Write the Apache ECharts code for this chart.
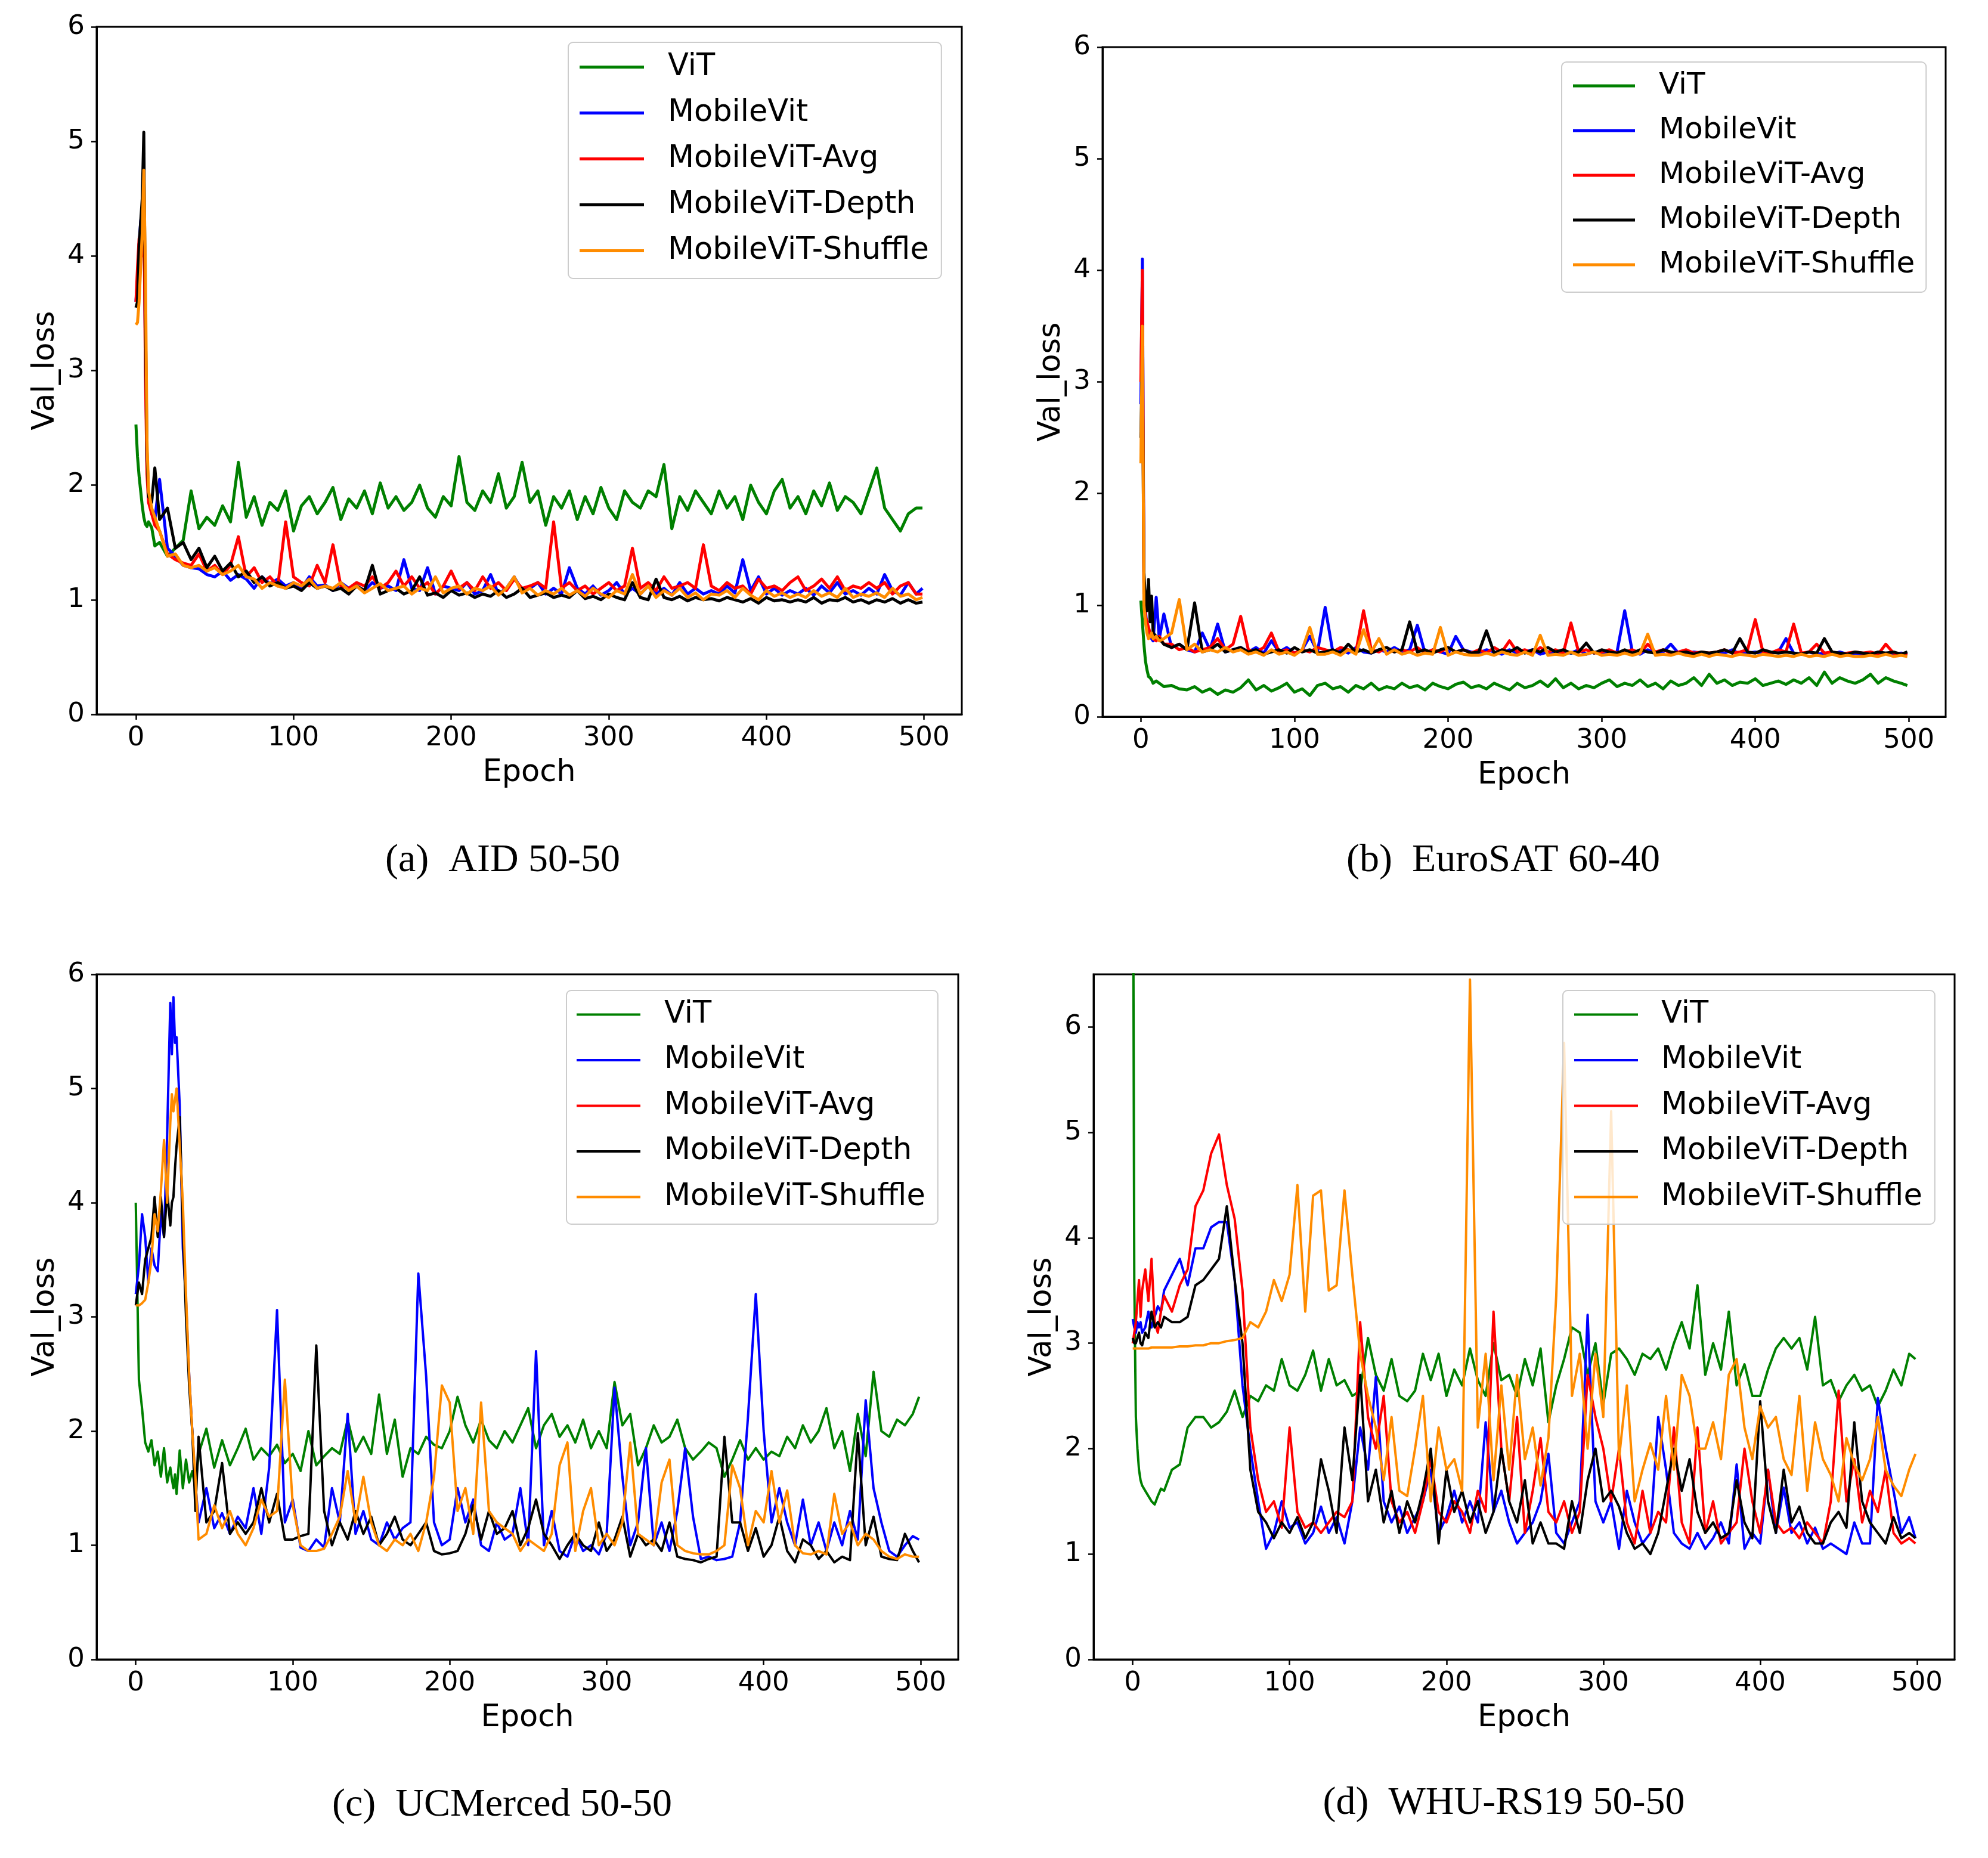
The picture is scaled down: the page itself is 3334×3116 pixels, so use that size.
<!DOCTYPE html>
<html>
<head>
<meta charset="utf-8">
<script src="https://cdn.jsdelivr.net/npm/echarts@6.0.0/dist/echarts.min.js"></script>
<style>
  html, body { margin: 0; padding: 0; background: #fff; }
  #chart { width: 3334px; height: 3116px; }
</style>
</head>
<body>
<div id="chart"></div>
<script>
// validation loss curves, four datasets

var seriesNames = ['ViT', 'MobileVit', 'MobileViT-Avg', 'MobileViT-Depth', 'MobileViT-Shuffle'];
var xTicks = [0, 100, 200, 300, 400, 500];
var yTicks = [0, 1, 2, 3, 4, 5, 6];

// epochs sampled for (a) and (b)
var epochsAB = [0,1,2,3,4,5,6,7,8,10,12,15,
  20,25,30,35,40,45,50,55,60,65,70,75,80,85,90,95,100,105,110,115,120,125,130,135,140,145,150,155,160,165,
  170,175,180,185,190,195,200,205,210,215,220,225,230,235,240,245,250,255,260,265,270,275,280,285,290,295,
  300,305,310,315,320,325,330,335,340,345,350,355,360,365,370,375,380,385,390,395,400,405,410,415,420,425,
  430,435,440,445,450,455,460,465,470,475,480,485,490,495,499];

// epochs sampled for (c)
var epochsC = [0,2,4,6,8,10,12,14,16,18,20,22,23,24,25,26,28,30,32,34,36,38,40,
  45,50,55,60,65,70,75,80,85,90,95,100,105,110,115,120,125,130,135,140,145,150,155,160,165,170,175,180,185,190,
  195,200,205,210,215,220,225,230,235,240,245,250,255,260,265,270,275,280,285,290,295,300,305,310,315,320,325,
  330,335,340,345,350,355,360,365,370,375,380,385,390,395,400,405,410,415,420,425,430,435,440,445,450,455,460,
  465,470,475,480,485,490,495,499];

// epochs sampled for (d)
var epochsD = [0,1,2,3,4,5,6,8,10,12,14,16,18,
  20,25,30,35,40,45,50,55,60,65,70,75,80,85,90,95,100,105,110,115,120,125,130,135,140,145,150,155,160,165,
  170,175,180,185,190,195,200,205,210,215,220,225,230,235,240,245,250,255,260,265,270,275,280,285,290,295,
  300,305,310,315,320,325,330,335,340,345,350,355,360,365,370,375,380,385,390,395,400,405,410,415,420,425,
  430,435,440,445,450,455,460,465,470,475,480,485,490,495,499];

// (a) AID 50-50
var aidVit = [2.53,2.25,2.08,1.95,1.82,1.72,1.66,1.64,1.68,1.63,1.47,1.5,
  1.38,1.45,1.52,1.95,1.62,1.72,1.65,1.82,1.68,2.2,
  1.72,1.9,1.65,1.85,1.78,1.95,1.6,1.82,1.9,1.75,
  1.85,1.98,1.7,1.88,1.8,1.95,1.75,2.02,1.8,1.9,
  1.78,1.85,2.0,1.8,1.72,1.9,1.82,2.25,1.85,1.78,
  1.95,1.85,2.1,1.8,1.9,2.2,1.85,1.95,1.65,1.9,
  1.8,1.95,1.7,1.9,1.75,1.98,1.8,1.7,1.95,1.85,
  1.8,1.95,1.9,2.18,1.62,1.9,1.78,1.95,1.85,1.75,
  1.95,1.8,1.9,1.7,2.0,1.85,1.75,1.95,2.05,1.8,
  1.9,1.75,1.95,1.82,2.02,1.78,1.9,1.85,1.75,1.95,
  2.15,1.8,1.7,1.6,1.75,1.8,1.8];
var aidMobileVit = [3.6,3.8,4.1,4.3,4.4,4.5,3.2,2.2,1.9,1.75,1.7,2.05,
  1.45,1.38,1.3,1.28,1.27,1.22,1.2,1.25,1.17,1.22,
  1.18,1.1,1.2,1.14,1.18,1.12,1.15,1.1,1.2,1.12,
  1.13,1.08,1.15,1.1,1.12,1.08,1.15,1.1,1.12,1.08,
  1.35,1.1,1.08,1.28,1.05,1.12,1.1,1.08,1.15,1.05,
  1.08,1.22,1.05,1.1,1.2,1.08,1.1,1.15,1.05,1.1,
  1.05,1.28,1.1,1.05,1.12,1.04,1.08,1.15,1.05,1.1,
  1.05,1.12,1.05,1.1,1.04,1.15,1.05,1.1,1.05,1.08,
  1.05,1.12,1.06,1.35,1.08,1.2,1.05,1.1,1.04,1.08,
  1.05,1.1,1.04,1.12,1.06,1.15,1.05,1.08,1.04,1.1,
  1.05,1.22,1.08,1.04,1.15,1.05,1.1];
var aidAvg = [3.6,3.9,4.15,4.2,4.0,4.5,3.0,2.1,1.85,1.75,1.65,1.6,
  1.4,1.35,1.32,1.3,1.4,1.25,1.3,1.22,1.3,1.55,
  1.2,1.28,1.15,1.2,1.12,1.68,1.2,1.15,1.12,1.3,
  1.15,1.48,1.12,1.1,1.15,1.12,1.2,1.1,1.15,1.25,
  1.12,1.2,1.1,1.15,1.05,1.12,1.25,1.1,1.15,1.08,
  1.2,1.1,1.15,1.08,1.18,1.1,1.12,1.15,1.1,1.68,
  1.1,1.15,1.08,1.12,1.05,1.1,1.15,1.08,1.12,1.45,
  1.1,1.15,1.08,1.2,1.1,1.12,1.15,1.1,1.48,1.12,
  1.08,1.15,1.1,1.12,1.05,1.18,1.1,1.12,1.08,1.15,
  1.2,1.08,1.12,1.18,1.1,1.2,1.08,1.12,1.1,1.15,
  1.1,1.15,1.05,1.12,1.15,1.05,1.05];
var aidDepth = [3.55,3.6,4.1,4.3,4.5,5.08,3.5,2.3,1.9,1.85,2.15,1.7,
  1.8,1.45,1.5,1.35,1.45,1.28,1.38,1.25,1.32,1.2,
  1.25,1.15,1.2,1.12,1.15,1.1,1.12,1.08,1.15,1.1,
  1.12,1.08,1.1,1.05,1.12,1.08,1.3,1.05,1.08,1.1,
  1.05,1.08,1.2,1.04,1.06,1.02,1.08,1.04,1.06,1.02,
  1.05,1.03,1.08,1.02,1.05,1.1,1.02,1.04,1.06,1.02,
  1.04,1.02,1.08,1.01,1.03,1.0,1.05,1.02,1.0,1.15,
  1.02,1.0,1.18,1.02,1.0,1.03,0.99,1.02,1.0,1.01,
  0.99,1.02,1.0,0.98,1.01,0.97,1.02,0.99,1.0,0.98,
  1.0,0.98,1.02,0.97,1.0,0.99,1.02,0.98,1.0,0.97,
  1.0,0.98,1.01,0.97,1.0,0.97,0.98];
var aidShuffle = [3.4,3.42,3.6,3.9,4.2,4.75,3.9,2.4,1.95,1.8,1.72,1.6,
  1.38,1.4,1.3,1.28,1.3,1.25,1.28,1.22,1.25,1.3,
  1.2,1.18,1.1,1.15,1.12,1.1,1.15,1.12,1.18,1.1,
  1.12,1.1,1.15,1.08,1.12,1.06,1.1,1.14,1.08,1.1,
  1.12,1.05,1.1,1.08,1.2,1.06,1.1,1.12,1.05,1.1,
  1.08,1.12,1.04,1.1,1.2,1.06,1.1,1.04,1.08,1.05,
  1.1,1.04,1.08,1.03,1.1,1.05,1.02,1.08,1.05,1.22,
  1.05,1.12,1.02,1.08,1.04,1.1,1.02,1.06,1.0,1.05,
  1.04,1.08,1.02,1.1,1.04,1.0,1.08,1.03,1.06,1.02,
  1.05,1.02,1.08,1.03,1.06,1.02,1.1,1.02,1.05,1.03,
  1.06,1.02,1.1,1.03,1.05,1.0,1.02];

// (b) EuroSAT 60-40
var euroVit = [1.04,0.85,0.65,0.5,0.42,0.36,0.35,0.33,0.3,0.32,0.3,0.27,
  0.28,0.25,0.24,0.27,0.22,0.25,0.2,0.24,0.22,0.26,
  0.33,0.24,0.28,0.23,0.26,0.3,0.22,0.25,0.19,0.28,
  0.3,0.25,0.27,0.22,0.28,0.25,0.3,0.24,0.27,0.25,
  0.3,0.26,0.28,0.24,0.3,0.27,0.25,0.29,0.31,0.26,
  0.28,0.25,0.3,0.27,0.24,0.3,0.26,0.28,0.32,0.27,
  0.34,0.26,0.3,0.25,0.28,0.26,0.3,0.33,0.27,0.3,
  0.28,0.33,0.27,0.3,0.25,0.32,0.28,0.3,0.35,0.28,
  0.38,0.3,0.33,0.28,0.31,0.3,0.34,0.28,0.3,0.32,
  0.29,0.33,0.3,0.35,0.28,0.4,0.3,0.35,0.32,0.3,
  0.33,0.38,0.3,0.35,0.32,0.3,0.28];
var euroMobileVit = [2.8,4.1,1.2,0.95,0.8,0.75,0.72,0.7,0.68,1.07,0.7,0.92,
  0.62,0.65,0.6,0.58,0.75,0.6,0.83,0.58,0.6,0.62,
  0.58,0.62,0.57,0.68,0.58,0.62,0.57,0.6,0.72,0.58,
  0.98,0.58,0.6,0.57,0.62,0.58,0.57,0.6,0.58,0.62,
  0.58,0.6,0.82,0.57,0.6,0.58,0.56,0.72,0.6,0.58,
  0.57,0.6,0.58,0.56,0.6,0.57,0.58,0.6,0.56,0.58,
  0.56,0.58,0.57,0.6,0.56,0.58,0.57,0.56,0.58,0.95,
  0.58,0.56,0.6,0.57,0.58,0.65,0.57,0.56,0.58,0.57,
  0.56,0.58,0.57,0.6,0.56,0.57,0.58,0.56,0.57,0.58,
  0.7,0.57,0.56,0.58,0.56,0.57,0.56,0.58,0.56,0.57,
  0.56,0.57,0.55,0.57,0.56,0.57,0.56];
var euroAvg = [3.0,4.0,1.1,0.9,0.85,0.8,0.75,0.72,0.7,0.68,0.72,0.65,
  0.65,0.6,0.62,0.58,0.6,0.62,0.7,0.6,0.65,0.9,
  0.6,0.58,0.62,0.75,0.58,0.6,0.57,0.6,0.58,0.62,
  0.6,0.58,0.62,0.6,0.58,0.95,0.6,0.58,0.62,0.58,
  0.6,0.58,0.62,0.57,0.6,0.58,0.62,0.58,0.6,0.57,
  0.6,0.57,0.62,0.58,0.68,0.58,0.6,0.57,0.62,0.58,
  0.6,0.57,0.84,0.58,0.6,0.57,0.58,0.6,0.57,0.58,
  0.6,0.57,0.65,0.58,0.6,0.57,0.58,0.6,0.57,0.58,
  0.57,0.58,0.6,0.57,0.58,0.6,0.87,0.58,0.57,0.6,
  0.58,0.83,0.57,0.58,0.65,0.57,0.58,0.56,0.57,0.58,
  0.57,0.58,0.56,0.65,0.57,0.56,0.57];
var euroDepth = [2.5,3.2,1.3,1.05,0.95,1.23,0.85,1.08,0.75,0.72,0.7,0.65,
  0.62,0.65,0.6,1.02,0.58,0.6,0.65,0.58,0.6,0.62,
  0.58,0.6,0.56,0.58,0.6,0.57,0.62,0.58,0.6,0.57,
  0.58,0.6,0.57,0.65,0.58,0.6,0.57,0.6,0.62,0.58,
  0.6,0.85,0.58,0.6,0.57,0.6,0.62,0.58,0.6,0.57,
  0.58,0.77,0.57,0.6,0.58,0.62,0.57,0.6,0.58,0.62,
  0.58,0.6,0.57,0.58,0.66,0.57,0.6,0.58,0.57,0.6,
  0.57,0.6,0.58,0.57,0.6,0.58,0.57,0.58,0.56,0.58,
  0.57,0.58,0.6,0.57,0.7,0.58,0.57,0.6,0.58,0.57,
  0.58,0.57,0.56,0.58,0.57,0.7,0.58,0.57,0.56,0.58,
  0.57,0.56,0.58,0.57,0.58,0.56,0.58];
var euroShuffle = [2.27,3.5,1.0,0.85,0.75,0.7,0.72,0.75,0.7,0.72,0.68,0.7,
  0.75,1.05,0.6,0.65,0.58,0.6,0.58,0.62,0.58,0.6,
  0.56,0.58,0.55,0.6,0.56,0.58,0.55,0.6,0.8,0.56,
  0.56,0.58,0.55,0.6,0.56,0.78,0.58,0.7,0.56,0.6,
  0.56,0.58,0.55,0.57,0.56,0.8,0.55,0.58,0.56,0.55,
  0.55,0.57,0.55,0.58,0.56,0.55,0.58,0.55,0.73,0.55,
  0.56,0.55,0.58,0.55,0.56,0.58,0.55,0.56,0.55,0.57,
  0.55,0.57,0.74,0.55,0.56,0.55,0.57,0.55,0.54,0.56,
  0.54,0.56,0.55,0.54,0.56,0.55,0.54,0.56,0.55,0.54,
  0.55,0.54,0.56,0.54,0.55,0.54,0.56,0.54,0.55,0.54,
  0.54,0.55,0.54,0.56,0.54,0.55,0.54];

// (c) UCMerced 50-50 (no visible MobileViT-Avg curve)
var ucmVit = [4.0,2.45,2.2,1.9,1.82,1.92,1.7,1.82,1.6,1.85,1.55,1.68,1.58,1.5,1.62,1.45,1.83,1.5,1.75,1.55,1.65,1.5,1.8,
  2.02,1.68,1.92,1.7,1.85,2.02,1.75,1.85,1.78,1.88,
  1.72,1.8,1.65,2.0,1.7,1.78,1.85,1.8,2.1,1.82,
  1.95,1.8,2.32,1.8,2.1,1.6,1.85,1.8,1.95,1.88,
  1.85,2.0,2.3,2.05,1.9,2.1,1.92,1.85,2.0,1.9,
  2.05,2.2,1.85,2.05,2.15,1.95,2.05,1.9,2.1,1.85,
  2.0,1.85,2.43,2.05,2.15,1.7,1.85,2.05,1.9,1.95,
  2.1,1.85,1.75,1.82,1.9,1.85,1.6,1.75,1.92,1.75,
  1.85,1.75,1.82,1.78,1.95,1.85,2.05,1.9,2.0,2.2,
  1.85,2.0,1.65,2.15,1.78,2.52,2.0,1.95,2.1,2.05,
  2.15,2.3];
var ucmMobileVit = [3.2,3.45,3.9,3.7,3.3,3.6,3.45,3.4,3.9,3.7,4.6,5.75,5.3,5.8,5.4,5.45,4.85,3.6,3.15,2.5,2.0,1.55,1.2,
  1.5,1.15,1.28,1.1,1.25,1.15,1.5,1.1,1.68,3.06,
  1.2,1.4,0.98,0.95,1.05,0.98,1.5,1.2,2.15,1.1,
  1.3,1.05,1.0,1.2,1.05,1.15,1.2,3.38,2.48,1.2,
  1.0,1.05,1.5,1.2,1.4,1.0,0.95,1.2,1.05,1.1,
  1.5,1.0,2.7,1.0,1.3,0.95,0.9,1.1,0.95,1.0,
  0.92,1.1,2.38,1.6,1.0,1.2,1.85,1.0,1.2,0.95,
  1.3,1.85,1.25,0.88,0.9,0.87,0.88,0.9,1.2,2.12,
  3.2,2.0,1.2,1.5,1.2,1.0,1.4,1.0,1.2,0.95,
  1.2,1.0,1.3,1.05,2.27,1.5,1.2,0.95,0.9,1.0,
  1.08,1.05];
var ucmAvg = [];
var ucmDepth = [3.1,3.3,3.2,3.5,3.6,3.7,4.05,3.7,4.05,3.7,4.1,3.8,4.0,4.05,4.3,4.5,4.75,3.8,3.0,2.4,2.0,1.3,1.95,
  1.2,1.3,1.72,1.1,1.2,1.1,1.2,1.5,1.2,1.45,
  1.05,1.05,1.08,1.1,2.75,1.3,1.0,1.2,1.05,1.3,
  1.1,1.25,1.0,1.1,1.25,1.05,1.0,1.1,1.2,0.95,
  0.92,0.93,0.95,1.1,1.35,1.05,1.3,1.1,1.15,1.3,
  1.0,1.15,1.4,1.1,1.0,0.88,1.0,1.1,1.0,0.95,
  1.2,0.95,1.05,1.25,0.9,1.1,1.0,1.05,0.95,1.2,
  0.9,0.88,0.87,0.85,0.88,0.9,1.95,1.2,1.2,0.95,
  1.15,0.9,1.0,1.25,0.95,0.85,1.05,1.0,0.88,0.95,
  0.85,0.9,0.87,1.98,1.0,1.25,0.9,0.88,0.87,1.1,
  0.95,0.85];
var ucmShuffle = [3.1,3.1,3.12,3.15,3.3,3.5,3.9,3.75,4.1,4.55,4.0,4.7,4.95,4.8,4.9,5.0,4.5,4.0,3.2,2.5,2.0,1.6,1.05,
  1.1,1.35,1.15,1.3,1.1,1.0,1.15,1.4,1.25,1.3,
  2.45,1.35,1.0,0.95,0.95,0.97,1.1,1.25,1.65,1.2,
  1.6,1.2,1.0,0.95,1.05,1.0,1.1,0.95,1.2,1.6,
  2.4,2.25,1.3,1.5,1.1,2.25,1.3,1.2,1.15,1.1,
  0.95,1.05,1.0,0.95,1.1,1.7,1.9,0.95,1.3,1.5,
  1.0,1.1,1.0,1.2,1.9,1.1,1.05,1.0,1.55,1.75,
  1.0,0.95,0.93,0.92,0.92,0.95,1.0,1.7,1.5,1.0,
  1.3,1.2,1.65,1.2,1.48,1.0,0.93,0.92,0.95,0.92,
  1.45,1.1,1.2,1.0,1.1,1.05,0.95,0.9,0.88,0.92,
  0.9,0.9];

// (d) WHU-RS19 50-50
var whuVit = [9.0,3.6,2.3,2.0,1.8,1.7,1.65,1.6,1.55,1.5,1.47,1.55,1.62,
  1.6,1.8,1.85,2.2,2.3,2.3,2.2,2.25,2.35,2.55,
  2.3,2.5,2.45,2.6,2.55,2.85,2.6,2.55,2.7,2.93,
  2.55,2.85,2.6,2.65,2.5,2.55,3.05,2.7,2.55,2.85,
  2.5,2.45,2.55,2.9,2.65,2.9,2.5,2.75,2.6,2.95,
  2.65,2.5,3.0,2.65,2.7,2.5,2.85,2.6,2.95,2.25,
  2.6,2.85,3.15,3.1,2.7,3.0,2.42,2.9,2.95,2.85,
  2.7,2.9,2.85,2.95,2.75,3.0,3.2,2.95,3.55,2.7,
  3.0,2.75,3.3,2.6,2.8,2.5,2.5,2.75,2.95,3.05,
  2.95,3.05,2.75,3.25,2.6,2.65,2.45,2.6,2.7,2.55,
  2.6,2.4,2.55,2.75,2.6,2.9,2.85];
var whuMobileVit = [3.23,3.15,3.1,3.2,3.15,3.2,3.1,3.15,3.3,3.15,3.25,3.35,3.3,
  3.5,3.65,3.8,3.55,3.9,3.9,4.1,4.15,4.15,3.6,
  2.6,2.0,1.5,1.05,1.2,1.5,1.25,1.3,1.1,1.2,
  1.45,1.2,1.35,1.1,1.5,2.2,1.8,2.68,1.5,1.3,
  1.45,1.2,1.35,1.5,1.8,1.2,1.35,1.6,1.3,1.5,
  1.3,2.25,1.4,1.6,1.3,1.1,1.2,1.3,1.5,1.95,
  1.2,1.1,1.3,1.5,3.27,1.5,1.3,1.5,1.05,1.6,
  1.3,1.1,1.2,2.3,1.8,1.2,1.1,1.05,1.2,1.05,
  1.15,1.3,1.1,1.85,1.05,1.2,1.1,1.8,1.2,1.63,
  1.2,1.3,1.1,1.25,1.05,1.1,1.05,1.0,1.3,1.1,
  1.1,2.48,2.0,1.6,1.2,1.35,1.15];
var whuAvg = [3.0,3.1,3.2,3.4,3.6,3.25,3.5,3.7,3.4,3.8,3.2,3.1,3.3,
  3.45,3.3,3.55,3.7,4.3,4.45,4.8,4.98,4.5,4.18,
  3.5,2.2,1.7,1.4,1.5,1.25,2.2,1.4,1.25,1.3,
  1.2,1.3,1.4,1.35,1.5,3.2,2.3,2.0,2.5,1.5,
  1.3,1.4,1.2,1.5,1.9,1.4,1.3,1.5,1.4,1.2,
  1.6,1.4,3.3,2.0,1.5,2.3,1.2,1.6,2.1,1.4,
  1.3,1.5,1.2,1.4,2.7,2.3,2.0,1.5,2.0,1.3,
  1.1,1.6,1.2,1.4,1.3,2.2,1.3,1.1,2.2,1.2,
  1.5,1.1,1.2,1.3,2.0,1.5,1.2,1.8,1.3,1.2,
  1.25,1.15,1.3,1.2,1.1,1.5,2.55,1.5,1.9,1.3,
  1.6,1.4,1.8,1.2,1.1,1.15,1.1];
var whuDepth = [3.05,3.0,3.0,3.05,3.1,3.0,2.98,3.1,3.05,3.3,3.15,3.2,3.15,
  3.25,3.2,3.2,3.25,3.55,3.6,3.7,3.8,4.3,3.6,
  3.0,1.8,1.4,1.3,1.15,1.3,1.2,1.35,1.15,1.3,
  1.9,1.6,1.2,2.2,1.7,2.7,1.5,1.8,1.3,1.6,
  1.2,1.5,1.3,1.6,2.0,1.1,1.8,1.4,1.6,1.3,
  1.5,1.2,1.4,2.0,1.5,1.3,1.7,1.1,1.3,1.1,
  1.1,1.05,1.5,1.2,1.7,2.0,1.5,1.6,1.45,1.2,
  1.05,1.1,1.0,1.2,1.6,2.0,1.6,1.9,1.4,1.2,
  1.3,1.15,1.2,1.7,1.3,1.15,2.45,1.5,1.2,1.8,
  1.3,1.45,1.2,1.1,1.1,1.3,1.4,1.25,2.25,1.5,
  1.3,1.2,1.1,1.35,1.15,1.2,1.15];
var whuShuffle = [2.95,2.95,2.95,2.95,2.95,2.95,2.95,2.95,2.95,2.96,2.96,2.96,2.96,
  2.96,2.96,2.97,2.97,2.98,2.98,3.0,3.0,3.02,3.03,
  3.05,3.2,3.15,3.3,3.6,3.4,3.65,4.5,3.3,4.4,
  4.45,3.5,3.55,4.45,3.65,2.9,2.5,2.2,1.7,2.3,
  1.6,1.55,2.0,2.5,1.5,2.2,1.8,1.9,1.6,6.45,
  2.2,2.9,1.7,2.6,1.8,2.7,1.9,2.2,1.65,2.1,
  3.45,5.85,2.5,2.9,2.0,2.9,2.3,5.2,1.9,2.6,
  1.5,1.8,2.05,1.8,2.5,1.8,2.7,2.5,2.0,2.0,
  2.25,1.9,2.7,2.85,2.2,1.9,2.4,2.2,2.3,1.9,
  1.75,2.5,1.6,2.25,1.9,1.75,1.5,2.1,1.85,1.7,
  1.9,2.3,1.8,1.65,1.55,1.8,1.95];

var FONT = 'DejaVu Sans';
var colors = ['#008000', '#0000ff', '#ff0000', '#000000', '#ff8c00'];

var panels = [
  { grid: { left: 162, top: 45, width: 1451, height: 1153 }, epochs: epochsAB,
    values: [aidVit, aidMobileVit, aidAvg, aidDepth, aidShuffle], yMax: 6, lw: 5,
    legend: { left: 953, top: 71, padding: [16, 21, 21, 19], itemGap: 26, itemWidth: 108, itemHeight: 5, fontSize: 51, textPad: 35 },
    caption: { text: '(a)  AID 50-50', x: 843, y: 1444 } },
  { grid: { left: 1849, top: 79, width: 1414, height: 1123 }, epochs: epochsAB,
    values: [euroVit, euroMobileVit, euroAvg, euroDepth, euroShuffle], yMax: 6, lw: 5,
    legend: { left: 2619, top: 104, padding: [15, 19, 21, 19], itemGap: 25, itemWidth: 104, itemHeight: 5, fontSize: 50, textPad: 35 },
    caption: { text: '(b)  EuroSAT 60-40', x: 2521, y: 1444 } },
  { grid: { left: 162, top: 1634, width: 1445, height: 1149 }, epochs: epochsC,
    values: [ucmVit, ucmMobileVit, ucmAvg, ucmDepth, ucmShuffle], yMax: 6, lw: 4,
    legend: { left: 950, top: 1661, padding: [15, 21, 20, 17], itemGap: 25.5, itemWidth: 107, itemHeight: 4, fontSize: 51, textPad: 35 },
    caption: { text: '(c)  UCMerced 50-50', x: 842, y: 3028 } },
  { grid: { left: 1834, top: 1634, width: 1444, height: 1149 }, epochs: epochsD,
    values: [whuVit, whuMobileVit, whuAvg, whuDepth, whuShuffle], yMax: 6.5, lw: 4,
    legend: { left: 2621, top: 1661, padding: [15, 21, 20, 19], itemGap: 25.5, itemWidth: 107, itemHeight: 4, fontSize: 51, textPad: 34 },
    caption: { text: '(d)  WHU-RS19 50-50', x: 2522, y: 3025 } }
];

function toPairs(xs, ys) {
  var out = [];
  for (var i = 0; i < ys.length; i++) {
    out.push([xs[i], ys[i]]);
  }
  return out;
}

var grids = [], xAxes = [], yAxes = [], legends = [], series = [], captions = [];

panels.forEach(function (p, i) {
  grids.push({
    left: p.grid.left, top: p.grid.top, width: p.grid.width, height: p.grid.height,
    show: true, borderColor: '#000', borderWidth: 3, backgroundColor: '#fff', containLabel: false
  });

  xAxes.push({
    type: 'value', gridIndex: i, min: -24.95, max: 523.95,
    name: 'Epoch', nameLocation: 'middle', nameGap: 73,
    nameTextStyle: { fontSize: 51, color: '#000', fontFamily: FONT },
    axisLine: { show: true, onZero: false, lineStyle: { color: '#000', width: 3 } },
    axisTick: { show: true, inside: false, length: 9, lineStyle: { color: '#000', width: 2.5 }, customValues: xTicks },
    axisLabel: { show: true, customValues: xTicks, fontSize: 45, color: '#000', fontFamily: FONT, margin: 18 },
    splitLine: { show: false }
  });

  yAxes.push({
    type: 'value', gridIndex: i, min: 0, max: p.yMax,
    name: 'Val_loss', nameLocation: 'middle', nameGap: 60,
    nameTextStyle: { fontSize: 51, color: '#000', fontFamily: FONT },
    axisLine: { show: true, onZero: false, lineStyle: { color: '#000', width: 3 } },
    axisTick: { show: true, inside: false, length: 9, lineStyle: { color: '#000', width: 2.5 }, customValues: yTicks },
    axisLabel: { show: true, customValues: yTicks, fontSize: 45, color: '#000', fontFamily: FONT, margin: 20 },
    splitLine: { show: false }
  });

  var names = [];
  p.values.forEach(function (vals, k) {
    var id = 'p' + i + '_' + k;
    names.push({ name: id });
    series.push({
      id: id, name: id, type: 'line', xAxisIndex: i, yAxisIndex: i,
      data: toPairs(p.epochs, vals),
      showSymbol: false, symbol: 'none', clip: true, silent: true,
      color: colors[k],
      lineStyle: { color: colors[k], width: p.lw, join: 'round' },
      z: 2 + k * 0.01
    });
  });

  legends.push({
    orient: 'vertical', left: p.legend.left, top: p.legend.top,
    padding: p.legend.padding, itemGap: p.legend.itemGap,
    itemWidth: p.legend.itemWidth, itemHeight: p.legend.itemHeight,
    icon: 'rect', selectedMode: false,
    backgroundColor: 'rgba(255,255,255,0.8)', borderColor: '#cccccc', borderWidth: 2, borderRadius: 8,
    data: names,
    formatter: function (id) { return seriesNames[+id.split('_')[1]]; },
    textStyle: {
      fontSize: p.legend.fontSize, fontFamily: FONT, color: '#000',
      lineHeight: p.legend.fontSize, padding: [0, 0, 0, p.legend.textPad]
    }
  });

  captions.push({
    type: 'text', x: p.caption.x, y: p.caption.y, silent: true,
    style: {
      text: p.caption.text, fill: '#000', fontSize: 66, fontFamily: 'Liberation Serif',
      textAlign: 'center', textVerticalAlign: 'middle'
    }
  });
});

var chart = echarts.init(document.getElementById('chart'), null, { renderer: 'canvas' });
chart.setOption({
  animation: false,
  backgroundColor: '#fff',
  grid: grids,
  xAxis: xAxes,
  yAxis: yAxes,
  legend: legends,
  series: series,
  graphic: captions
});
</script>
</body>
</html>
